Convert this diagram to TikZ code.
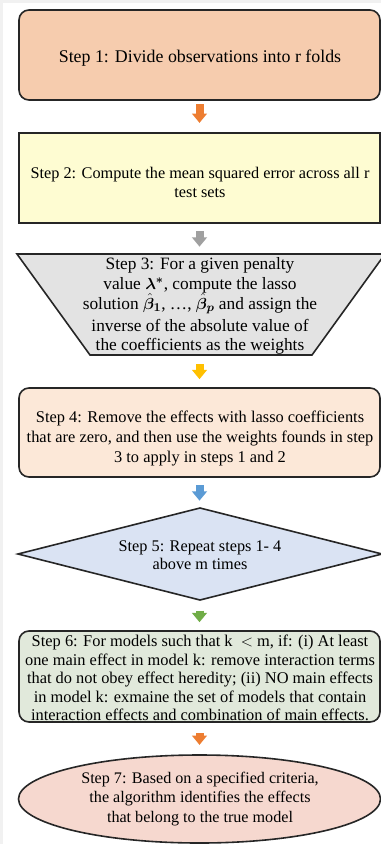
\documentclass[tikz,border=0pt]{standalone}
\usepackage{fontspec}
\setmainfont{Liberation Serif}
\usepackage{amsmath,bm}
\usetikzlibrary{arrows.meta,shapes.geometric}
\definecolor{bggray}{HTML}{F1F1F1}
\definecolor{edge}{HTML}{262626}
\definecolor{cone}{HTML}{F6CCAE}
\definecolor{ctwo}{HTML}{FEFCD2}
\definecolor{cthree}{HTML}{E3E3E3}
\definecolor{cfour}{HTML}{FCE8D8}
\definecolor{cfive}{HTML}{DAE3F3}
\definecolor{csix}{HTML}{E1E9DB}
\definecolor{cseven}{HTML}{F6D8CF}
\definecolor{aorange}{HTML}{ED7D31}
\definecolor{agray}{HTML}{A0A0A0}
\definecolor{agold}{HTML}{FFC000}
\definecolor{ablue}{HTML}{5B9BD5}
\definecolor{agreen}{HTML}{70AD47}
\begin{document}
\begin{tikzpicture}[x=0.75pt,y=-0.75pt,
  outline/.style={draw=edge, line width=1.2pt},
  box/.style={outline, inner sep=0pt, minimum width=270.75pt},
  txt/.style={align=center, inner sep=0pt, font=\fontsize{12.2}{14.5}\selectfont},
  flow/.style={line width=6pt, -{Triangle[width=11pt,length=7pt]},
    shorten <=5.5pt, shorten >=5.5pt}]
\useasboundingbox (0,0) rectangle (381,844);
\clip (0,0) rectangle (381,844);
\fill[bggray] (0,0) rectangle (381,844);
\fill[white] (3,3) rectangle (381,844);

% Step 1
\node[box, rounded corners=7.5pt, fill=cone, minimum height=67.5pt] (s1) at (199.5,55) {};
\node[txt, font=\fontsize{13.4}{16}\selectfont] (t1) at (200,58)
  {Step 1: Divide observations into r folds};

% Step 2
\node[box, fill=ctwo, minimum height=67.5pt] (s2) at (199.5,178) {};
\node[txt] (t2) at (200,182.5)
  {Step 2: Compute the mean squared error across all r\\test sets};

% Step 3 (inverted trapezoid)
\draw[outline, fill=cthree] (17,254) -- (385,254) -- (312,355) -- (90,355) -- cycle;
\coordinate (s3top) at (199.5,254);
\coordinate (s3bot) at (199.5,355);
\node[txt, font=\fontsize{13}{14.5}\selectfont] (t3) at (200,306)
  {Step 3: For a given penalty\\
   value $\bm{\lambda}^{\bm{*}}$, compute the lasso\\[0.5pt]
   solution \smash{$\hat{\bm{\beta}}_{\bm{1}}$}, \dots, \smash{$\hat{\bm{\beta}}_{\bm{p}}$} and assign the\\[2pt]
   inverse of the absolute value of\\
   the coefficients as the weights};

% Step 4
\node[box, rounded corners=7.5pt, fill=cfour, minimum height=66.75pt] (s4) at (199.5,432.5) {};
\node[txt, font=\fontsize{12.3}{15}\selectfont] (t4) at (200,438)
  {Step 4: Remove the effects with lasso coefficients\\
   that are zero, and then use the weights founds in step\\
   3 to apply in steps 1 and 2};

% Step 5 (diamond)
\draw[outline, fill=cfive] (200,508) -- (382,554) -- (200,600) -- (18,554) -- cycle;
\coordinate (s5top) at (199.5,508);
\coordinate (s5bot) at (199.5,600);
\node[txt, font=\fontsize{12.2}{13.5}\selectfont] (t5) at (200,555)
  {Step 5: Repeat steps 1- 4\\above m times};

% Step 6
\node[box, rounded corners=7.5pt, fill=csix, minimum height=68.25pt] (s6) at (199.5,676.5) {};
\node[txt, font=\fontsize{12.3}{13.8}\selectfont] (t6) at (200,678)
  {Step 6: For models such that k \ $<$ m, if: (i) At least\\
   one main effect in model k: remove interaction terms\\
   that do not obey effect heredity; (ii) NO main effects\\
   in model k: exmaine the set of models that contain\\
   interaction effects and combination of main effects.};

% Step 7 (ellipse)
\node[outline, ellipse, fill=cseven, inner sep=0pt, minimum width=271.5pt,
  minimum height=66pt] (s7) at (199.5,799) {};
\node[txt, font=\fontsize{12.1}{14.5}\selectfont] (t7) at (200,799)
  {Step 7: Based on a specified criteria,\\
   the algorithm identifies the effects\\
   that belong to the true model};

% connectors
\draw[flow, aorange, shorten <=2.5pt, shorten >=7pt] (s1.south) -- (s2.north);
\draw[flow, agray] (s2.south) -- (s3top);
\draw[flow, agold, shorten <=7pt, shorten >=6pt] (s3bot) -- (s4.north);
\draw[flow, ablue] (s4.south) -- (s5top);
\draw[flow, agreen, shorten <=8pt, shorten >=6pt] (s5bot) -- (s6.north);
\draw[flow, aorange, shorten <=8pt, shorten >=7pt] (s6.south) -- (s7.north);
\end{tikzpicture}
\end{document}
